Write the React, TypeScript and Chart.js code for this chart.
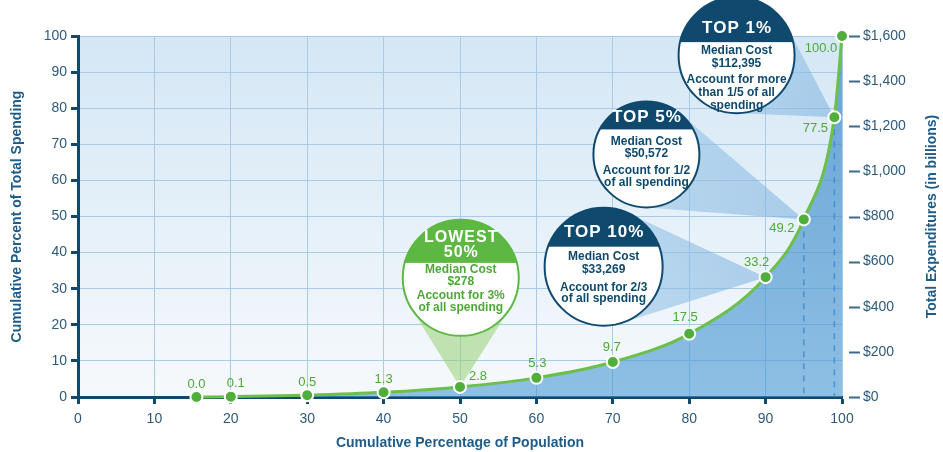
import React, { useEffect, useRef } from "react";
import { Chart, registerables } from "chart.js";

Chart.register(...registerables);

// ---- data ----
const populationPct = [15.5, 20, 30, 40, 50, 60, 70, 80, 90, 95, 99, 100];
const spendingPct = [0.0, 0.1, 0.5, 1.3, 2.8, 5.3, 9.7, 17.5, 33.2, 49.2, 77.5, 100.0];
const xTickValues = [0, 10, 20, 30, 40, 50, 60, 70, 80, 90, 100];
const leftTickValues = [0, 10, 20, 30, 40, 50, 60, 70, 80, 90, 100];
const expenditureTicks = [0, 200, 400, 600, 800, 1000, 1200, 1400, 1600];
const dashedAtPopulation = [95, 99];

const calloutTitles = [["LOWEST", "50%"], ["TOP 10%"], ["TOP 5%"], ["TOP 1%"]];
const calloutBodies = [
  ["Median Cost", "$278", "Account for 3%", "of all spending"],
  ["Median Cost", "$33,269", "Account for 2/3", "of all spending"],
  ["Median Cost", "$50,572", "Account for 1/2", "of all spending"],
  ["Median Cost", "$112,395", "Account for more", "than 1/5 of all", "spending"],
];
const calloutTargets = [50, 90, 95, 99];

// ---- styles / layout (not data) ----
const FONT = "'Liberation Sans', Arial, Helvetica, sans-serif";
const NAVY = "#0f4a6e";
const AXIS_TEXT = "#2d5a7b";
const TITLE_TEXT = "#1f5c87";
const GREEN = "#4fae3c";
const GREEN_TEXT = "#4ea838";

const calloutLayout = [
  { cx: 50.1, cy: 33.0, r: 58, cap: -15, green: true, titleY: [-40, -25], bodyY: [-8, 4, 18, 30] },
  { cx: 68.8, cy: 36.1, r: 59, cap: -20, green: false, titleY: [-34], bodyY: [-10, 3, 21, 32] },
  { cx: 74.4, cy: 67.2, r: 53, cap: -25, green: false, titleY: [-37], bodyY: [-13, -1, 16, 28] },
  { cx: 86.2, cy: 94.7, r: 58, cap: -13, green: false, titleY: [-27], bodyY: [-4, 9, 25, 38, 51] },
];

const labelOffsets: [number, number][] = [
  [0, -13], [5, -13], [0, -13], [0, -13], [18, -10], [1, -14],
  [-1, -15], [-4, -16], [-9, -15], [-22, 9], [-19, 11], [-21, 12],
];

const fmtDollar = (v: number) => "$" + v.toLocaleString("en-US");

const bgPlugin = {
  id: "bgPlugin",
  beforeDraw(chart: any) {
    const { ctx, chartArea: a } = chart;
    const g = ctx.createLinearGradient(0, a.top, 0, a.bottom);
    g.addColorStop(0, "#d4e7f5");
    g.addColorStop(1, "#f6f9fc");
    ctx.save();
    ctx.fillStyle = g;
    ctx.fillRect(a.left, a.top, a.right - a.left, a.bottom - a.top);
    ctx.restore();
  },
};

const overlayPlugin = {
  id: "overlayPlugin",
  beforeDatasetsDraw(chart: any) {
    const { ctx, chartArea: a } = chart;
    const xs = chart.scales.x;
    const ys = chart.scales.y;
    ctx.save();
    ctx.strokeStyle = "rgba(50,120,185,0.85)";
    ctx.lineWidth = 1.5;
    ctx.setLineDash([6, 6]);
    dashedAtPopulation.forEach((p) => {
      const i = populationPct.indexOf(p);
      const x = xs.getPixelForValue(p);
      ctx.beginPath();
      ctx.moveTo(x, ys.getPixelForValue(spendingPct[i]));
      ctx.lineTo(x, a.bottom);
      ctx.stroke();
    });
    ctx.restore();

    calloutLayout.forEach((c, k) => {
      const cx = xs.getPixelForValue(c.cx);
      const cy = ys.getPixelForValue(c.cy);
      const ti = populationPct.indexOf(calloutTargets[k]);
      const px = xs.getPixelForValue(populationPct[ti]);
      const py = ys.getPixelForValue(spendingPct[ti]);
      const dx = px - cx, dy = py - cy;
      const d = Math.hypot(dx, dy);
      const phi = Math.atan2(dy, dx);
      const al = Math.acos(Math.min(1, c.r / d));
      const t1 = phi + al, t2 = phi - al;
      ctx.save();
      if (c.green) {
        ctx.fillStyle = "rgba(150,210,115,0.55)";
      } else {
        const g = ctx.createLinearGradient(cx, cy, px, py);
        g.addColorStop(0, "rgba(150,195,230,0.55)");
        g.addColorStop(1, "rgba(120,175,222,0.55)");
        ctx.fillStyle = g;
      }
      ctx.beginPath();
      ctx.moveTo(cx + c.r * Math.cos(t1), cy + c.r * Math.sin(t1));
      ctx.lineTo(px, py);
      ctx.lineTo(cx + c.r * Math.cos(t2), cy + c.r * Math.sin(t2));
      ctx.lineTo(cx, cy);
      ctx.closePath();
      ctx.fill();

      const main = c.green ? "#5cb843" : NAVY;
      ctx.beginPath();
      ctx.arc(cx, cy, c.r, 0, Math.PI * 2);
      ctx.fillStyle = "#ffffff";
      ctx.fill();
      ctx.save();
      ctx.beginPath();
      ctx.arc(cx, cy, c.r, 0, Math.PI * 2);
      ctx.clip();
      ctx.fillStyle = main;
      ctx.fillRect(cx - c.r, cy - c.r, c.r * 2, c.r + c.cap);
      ctx.restore();
      ctx.beginPath();
      ctx.arc(cx, cy, c.r, 0, Math.PI * 2);
      ctx.strokeStyle = main;
      ctx.lineWidth = 2;
      ctx.stroke();

      ctx.textAlign = "center";
      ctx.textBaseline = "middle";
      ctx.fillStyle = "#ffffff";
      ctx.font = `bold ${c.green ? 16 : 17}px ${FONT}`;
      (ctx as any).letterSpacing = "1px";
      calloutTitles[k].forEach((t, j) => {
        ctx.fillText(t, cx + 0.5, cy + c.titleY[j]);
      });
      (ctx as any).letterSpacing = "0px";
      ctx.fillStyle = c.green ? GREEN_TEXT : NAVY;
      ctx.font = `bold 12px ${FONT}`;
      calloutBodies[k].forEach((t, j) => {
        ctx.fillText(t, cx, cy + c.bodyY[j]);
      });
      ctx.restore();
    });
  },
  afterDatasetsDraw(chart: any) {
    const { ctx } = chart;
    const meta = chart.getDatasetMeta(0);
    ctx.save();
    ctx.font = `13px ${FONT}`;
    ctx.fillStyle = GREEN_TEXT;
    ctx.textAlign = "center";
    ctx.textBaseline = "middle";
    meta.data.forEach((pt: any, i: number) => {
      const [ox, oy] = labelOffsets[i];
      ctx.fillText(spendingPct[i].toFixed(1), pt.x + ox, pt.y + oy);
    });
    ctx.restore();
  },
  afterDraw(chart: any) {
    const { ctx, chartArea: a } = chart;
    const y2 = chart.scales.y2;
    ctx.save();
    ctx.strokeStyle = "#3c6a8c";
    ctx.lineWidth = 2;
    expenditureTicks.forEach((v) => {
      const y = Math.round(y2.getPixelForValue(v)) + 0.5;
      ctx.beginPath();
      ctx.moveTo(a.right + 7, y);
      ctx.lineTo(a.right + 18, y);
      ctx.stroke();
    });
    ctx.translate(932, (a.top + a.bottom) / 2);
    ctx.rotate(-Math.PI / 2);
    ctx.font = `bold 14px ${FONT}`;
    ctx.fillStyle = TITLE_TEXT;
    ctx.textAlign = "center";
    ctx.textBaseline = "middle";
    ctx.fillText("Total Expenditures (in billions)", 0, 0);
    ctx.restore();
  },
};

export default function App() {
  const ref = useRef<HTMLCanvasElement | null>(null);
  useEffect(() => {
    document.body.style.margin = "0";
    if (!ref.current) return;
    const ctx = ref.current.getContext("2d")!;
    const chart = new Chart(ctx, {
      type: "line",
      data: {
        datasets: [
          {
            data: populationPct.map((x, i) => ({ x, y: spendingPct[i] })),
            borderColor: "#6cc04a",
            borderWidth: 3,
            pointBackgroundColor: GREEN,
            pointBorderColor: "#ffffff",
            pointBorderWidth: 2,
            pointRadius: 6,
            cubicInterpolationMode: "monotone",
            fill: "origin",
            clip: false as any,
            backgroundColor: (c: any) => {
              const a = c.chart.chartArea;
              if (!a) return "rgba(73,152,210,0.6)";
              const g = c.chart.ctx.createLinearGradient(0, a.top, 0, a.bottom);
              g.addColorStop(0, "rgba(62,138,200,0.72)");
              g.addColorStop(1, "rgba(73,152,212,0.6)");
              return g;
            },
          } as any,
        ],
      },
      options: {
        responsive: false,
        animation: false,
        layout: { padding: { top: 36, left: 0, right: 0, bottom: 0 } },
        plugins: { legend: { display: false }, tooltip: { enabled: false } },
        scales: {
          x: {
            type: "linear",
            min: 0,
            max: 100,
            afterBuildTicks: (s: any) => {
              s.ticks = xTickValues.map((v) => ({ value: v }));
            },
            afterFit: (s: any) => {
              s.height = 55;
            },
            grid: {
              color: "#a9cbe7",
              lineWidth: 1,
              tickColor: NAVY,
              tickWidth: 3,
              tickLength: 7,
            },
            border: { color: NAVY, width: 3 },
            ticks: { color: AXIS_TEXT, font: { family: FONT, size: 14 }, padding: 7 },
            title: {
              display: true,
              text: "Cumulative Percentage of Population",
              color: TITLE_TEXT,
              font: { family: FONT, size: 14, weight: "bold" },
              padding: { top: 0, bottom: 0 },
            },
          },
          y: {
            type: "linear",
            position: "left",
            min: 0,
            max: 100,
            afterBuildTicks: (s: any) => {
              s.ticks = leftTickValues.map((v) => ({ value: v }));
            },
            afterFit: (s: any) => {
              s.width = 78;
            },
            grid: {
              color: "#a9cbe7",
              lineWidth: 1,
              tickColor: NAVY,
              tickWidth: 3,
              tickLength: 7,
            },
            border: { color: NAVY, width: 3 },
            ticks: { color: AXIS_TEXT, font: { family: FONT, size: 14 }, padding: 4 },
            title: {
              display: true,
              text: "Cumulative Percent of Total Spending",
              color: TITLE_TEXT,
              font: { family: FONT, size: 14, weight: "bold" },
              padding: { top: 9, bottom: 0 },
            },
          },
          y2: {
            type: "linear",
            position: "right",
            min: 0,
            max: 1600,
            afterBuildTicks: (s: any) => {
              s.ticks = expenditureTicks.map((v) => ({ value: v }));
            },
            afterFit: (s: any) => {
              s.width = 101;
            },
            grid: { display: false },
            border: { display: false },
            ticks: {
              color: AXIS_TEXT,
              font: { family: FONT, size: 14 },
              padding: 13,
              callback: (v: any) => fmtDollar(Number(v)),
            },
          },
        },
      },
      plugins: [bgPlugin, overlayPlugin],
    });
    return () => chart.destroy();
  }, []);
  return (
    <div style={{ width: 943, height: 452 }}>
      <canvas ref={ref} width={943} height={452} style={{ display: "block" }} />
    </div>
  );
}
